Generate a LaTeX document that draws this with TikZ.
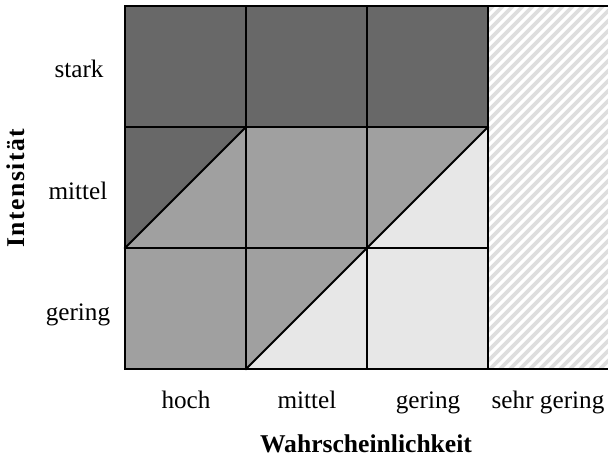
\documentclass[tikz,border=0pt]{standalone}
\usepackage{fontspec}
\setmainfont{Liberation Serif}
\definecolor{cdark}{RGB}{104,104,104}
\definecolor{cmed}{RGB}{160,160,160}
\definecolor{clight}{RGB}{231,231,231}
\definecolor{chatch}{RGB}{222,222,222}
\begin{document}
\begin{tikzpicture}[x=0.5pt,y=-0.5pt,
  lab/.style={font=\fontsize{12.6}{15}\selectfont, inner sep=0pt, anchor=base},
  ttl/.style={font=\fontsize{12.8}{15}\selectfont\bfseries, inner sep=0pt, anchor=base},
  gridline/.style={line width=1pt, line cap=rect},
  hatchline/.style={chatch, line width=1.8pt}]
\useasboundingbox (0,0) rectangle (608,456);
% fills
\fill[cmed] (125,127) rectangle (488,369);
\fill[cdark] (125,6) rectangle (488,127);
\fill[cdark] (125,127) -- (246,127) -- (125,248) -- cycle;
\fill[clight] (367,248) -- (488,127) -- (488,248) -- cycle;
\fill[clight] (367,248) rectangle (488,369);
\fill[clight] (246,369) -- (367,248) -- (367,369) -- cycle;
% hatched column
\begin{scope}
  \clip (488,6) rectangle (608,369);
  \foreach \a in {120,130,...,620} {
    \draw[hatchline] (\a,369) -- (\a+363,6);
  }
\end{scope}
% grid
\foreach \y in {6,369} {
  \draw[gridline] (125,\y) -- (608,\y);
}
\foreach \y in {127,248} {
  \draw[gridline] (125,\y) -- (488,\y);
}
\foreach \x in {125,246,367,488} {
  \draw[gridline] (\x,6) -- (\x,369);
}
\draw[gridline] (125,248) -- (246,127);
\draw[gridline] (367,248) -- (488,127);
\draw[gridline] (246,369) -- (367,248);
% row labels
\node[lab] (rs) at (79,77) {stark};
\node[lab] (rm) at (78,199) {mittel};
\node[lab] (rg) at (78,320) {gering};
% column labels
\node[lab] (ch) at (186,408) {hoch};
\node[lab] (cm) at (307,408) {mittel};
\node[lab] (cg) at (428,408) {gering};
\node[lab] (cs) at (548,408) {sehr gering};
% axis titles
\node[ttl] (tx) at (366,452) {Wahrscheinlichkeit};
\node[ttl, rotate=90] (ty) at (24,188) {\addfontfeature{LetterSpace=6}Intensität};
\end{tikzpicture}
\end{document}
